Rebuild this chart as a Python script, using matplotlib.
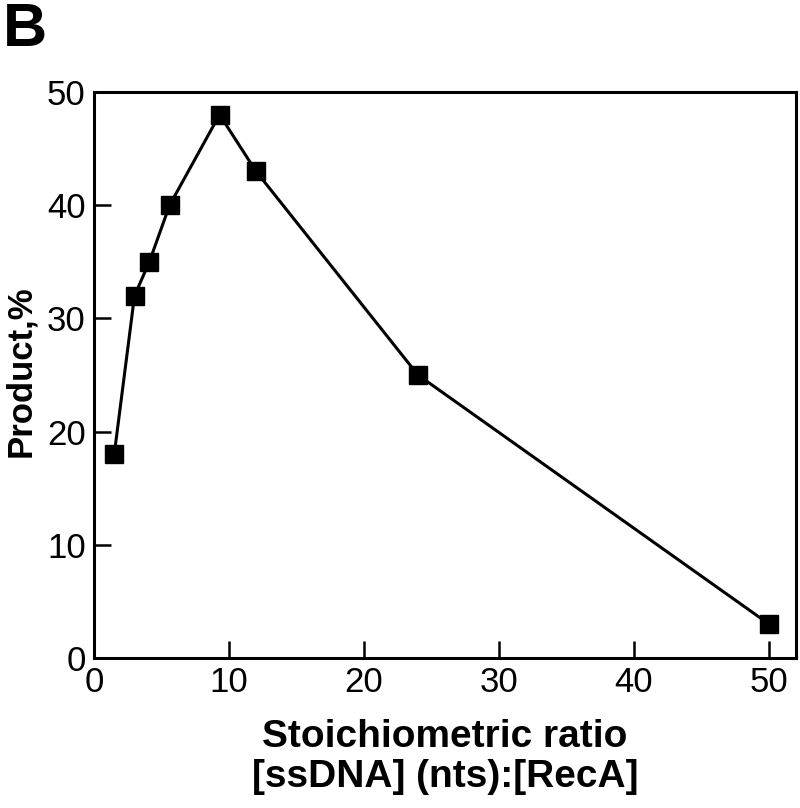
import matplotlib
matplotlib.use("Agg")
import matplotlib.pyplot as plt

# ---- data ----
ratio = [1.5, 3.0, 4.1, 5.6, 9.3, 12.0, 24.0, 50.0]
product = [18, 32, 35, 40, 48, 43, 25, 3]

x_ticks = [0, 10, 20, 30, 40, 50]
y_ticks = [0, 10, 20, 30, 40, 50]

plt.rcParams['font.family'] = ['Liberation Sans', 'DejaVu Sans']

fig = plt.figure(figsize=(8, 8.08), dpi=100)
ax = fig.add_axes([0.1175, 0.1856, 0.8775, 0.7005])

ax.plot(ratio, product, color='black', lw=2.2, marker='s', ms=13,
        mfc='black', mec='black', clip_on=False, zorder=3)

ax.set_xlim(0, 52)
ax.set_ylim(0, 50)
ax.set_xticks(x_ticks)
ax.set_yticks(y_ticks)

for side in ['left', 'right', 'top', 'bottom']:
    ax.spines[side].set_linewidth(2.2)

ax.tick_params(direction='in', length=12, width=1.8, labelsize=25,
               top=False, right=False, pad=6)

ax.set_ylabel('Product,%', fontsize=25, fontweight='bold')
ax.yaxis.set_label_coords(-0.081, 0.507)
ax.set_xlabel('Stoichiometric ratio\n[ssDNA] (nts):[RecA]', fontsize=28,
              fontweight='bold', labelpad=14, linespacing=1.15)

fig.text(0.004, 0.997, 'B', fontsize=44, fontweight='bold', va='top', ha='left')

plt.savefig('out.png', dpi=100)
